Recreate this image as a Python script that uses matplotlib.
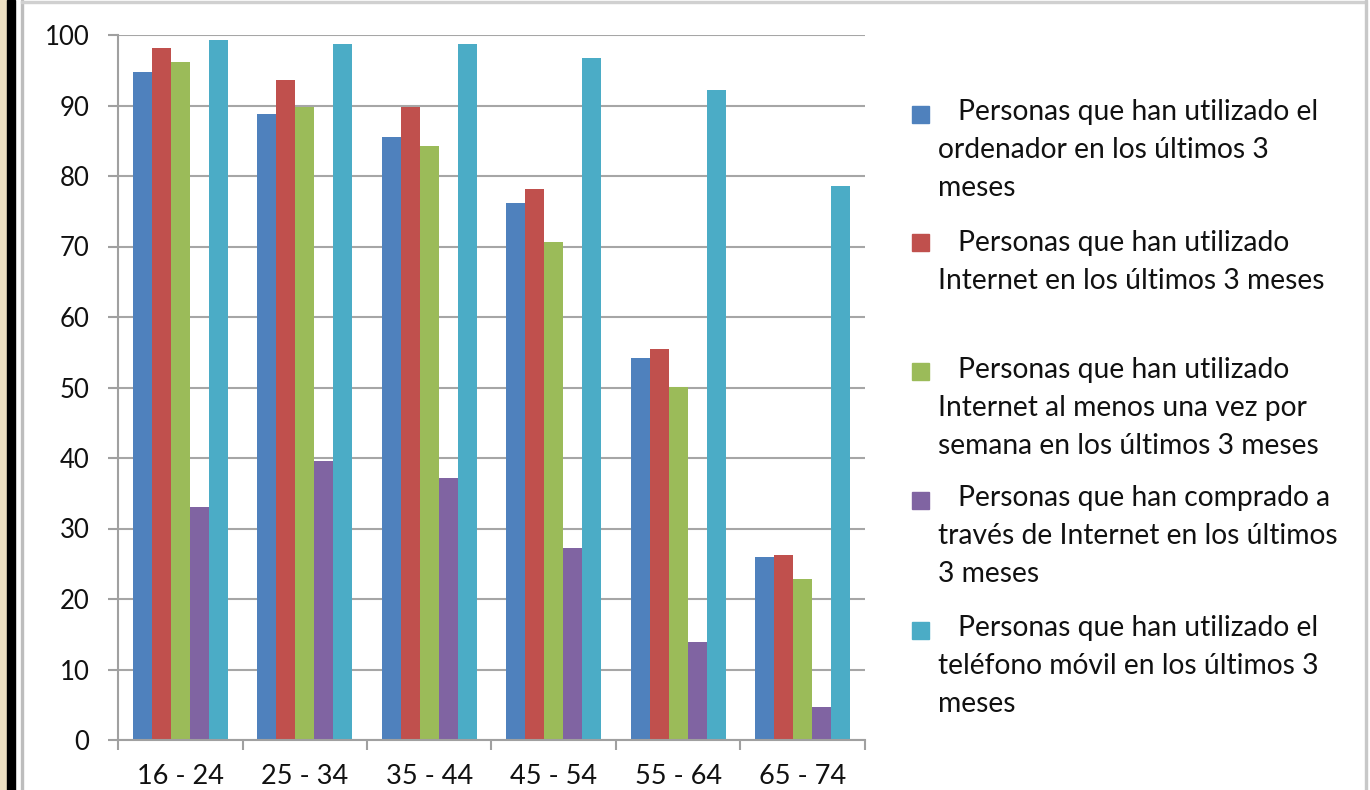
import matplotlib
matplotlib.use("Agg")
import matplotlib.pyplot as plt
import numpy as np
from matplotlib.patches import Rectangle

plt.rcParams['font.family'] = ['Lato', 'DejaVu Sans']

categories = ["16 - 24", "25 - 34", "35 - 44", "45 - 54", "55 - 64", "65 - 74"]
ordenador = [94.7, 88.8, 85.6, 76.2, 54.2, 26.0]
internet = [98.2, 93.6, 89.8, 78.2, 55.4, 26.3]
internet_semana = [96.1, 89.8, 84.2, 70.6, 50.1, 22.9]
compras = [33.1, 39.6, 37.1, 27.2, 13.9, 4.7]
movil = [99.3, 98.7, 98.7, 96.8, 92.2, 78.6]

series = [ordenador, internet, internet_semana, compras, movil]
colors = ["#4F81BD", "#C0504D", "#9BBB59", "#8064A2", "#4BACC6"]
legend_lines = [
    ["Personas que han utilizado el", "ordenador en los últimos 3", "meses"],
    ["Personas que han utilizado", "Internet en los últimos 3 meses"],
    ["Personas que han utilizado", "Internet al menos una vez por", "semana en los últimos 3 meses"],
    ["Personas que han comprado a", "través de Internet en los últimos", "3 meses"],
    ["Personas que han utilizado el", "teléfono móvil en los últimos 3", "meses"],
]

W, H = 1370, 790
fig = plt.figure(figsize=(W / 100, H / 100), dpi=100)
fig.patch.set_facecolor("white")

# page frame decorations
fig.patches.append(Rectangle((0, 0), 7 / W, 1, transform=fig.transFigure, color="#EFE1C3", zorder=0))
fig.patches.append(Rectangle((7 / W, 0), 8 / W, 1, transform=fig.transFigure, color="black", zorder=0))
fig.patches.append(Rectangle((21 / W, 0), 2 / W, 1, transform=fig.transFigure, color="#BDBDBD", zorder=0))
fig.patches.append(Rectangle((21 / W, 1 - 3 / H), (1365 - 21) / W, 2 / H, transform=fig.transFigure, color="#D0D0D0", zorder=0))
fig.patches.append(Rectangle((1365 / W, 0), 2 / W, 1, transform=fig.transFigure, color="#C8C8C8", zorder=0))

left, right, top, bottom = 118, 865, 35, 740
ax = fig.add_axes([left / W, 1 - bottom / H, (right - left) / W, (bottom - top) / H])

x = np.arange(len(categories))
w = 19 / 124.5
for i, (vals, c) in enumerate(zip(series, colors)):
    ax.bar(x + (i - 2) * w, vals, width=w, color=c, edgecolor="none", zorder=3)

ax.set_xlim(-0.5, len(categories) - 0.5)
ax.set_ylim(0, 100)
ax.set_yticks(np.arange(0, 101, 10))
ax.yaxis.grid(True, color="#A6A6A6", linewidth=1.5, zorder=0)
ax.set_axisbelow(True)

txt_color = "#111111"
ax.set_xticks(x)
ax.set_xticklabels(categories)
ax.set_xticks(np.arange(-0.5, len(categories)), minor=True)
ax.tick_params(axis="x", which="major", length=0, pad=17, labelsize=19.5, labelcolor=txt_color)
ax.tick_params(axis="x", which="minor", length=7.5, width=1.5, color="#A0A0A0", direction="out")
ax.tick_params(axis="y", length=7.5, width=1.5, color="#A0A0A0", pad=13, labelsize=18.5, labelcolor=txt_color)

for s in ["top", "right"]:
    ax.spines[s].set_visible(False)
for s in ["left", "bottom"]:
    ax.spines[s].set_color("#A0A0A0")
    ax.spines[s].set_linewidth(1.5)
ax.spines["left"].set_zorder(4)
ax.spines["bottom"].set_zorder(4)

# legend
sq_centers = [114, 243, 371, 500, 630]
first_line = [112, 243, 370, 498, 628]
line_h = 37.8
for k, (lines, c) in enumerate(zip(legend_lines, colors)):
    yc = sq_centers[k]
    fig.patches.append(Rectangle((912 / W, 1 - (yc + 8.5) / H), 17 / W, 17 / H,
                                 transform=fig.transFigure, color=c))
    for j, t in enumerate(lines):
        xx = 958 if j == 0 else 938
        yy = first_line[k] + j * line_h
        fig.text(xx / W, 1 - yy / H, t, ha="left", va="center", fontsize=20.3, color=txt_color)

fig.savefig("out.png", dpi=100)
